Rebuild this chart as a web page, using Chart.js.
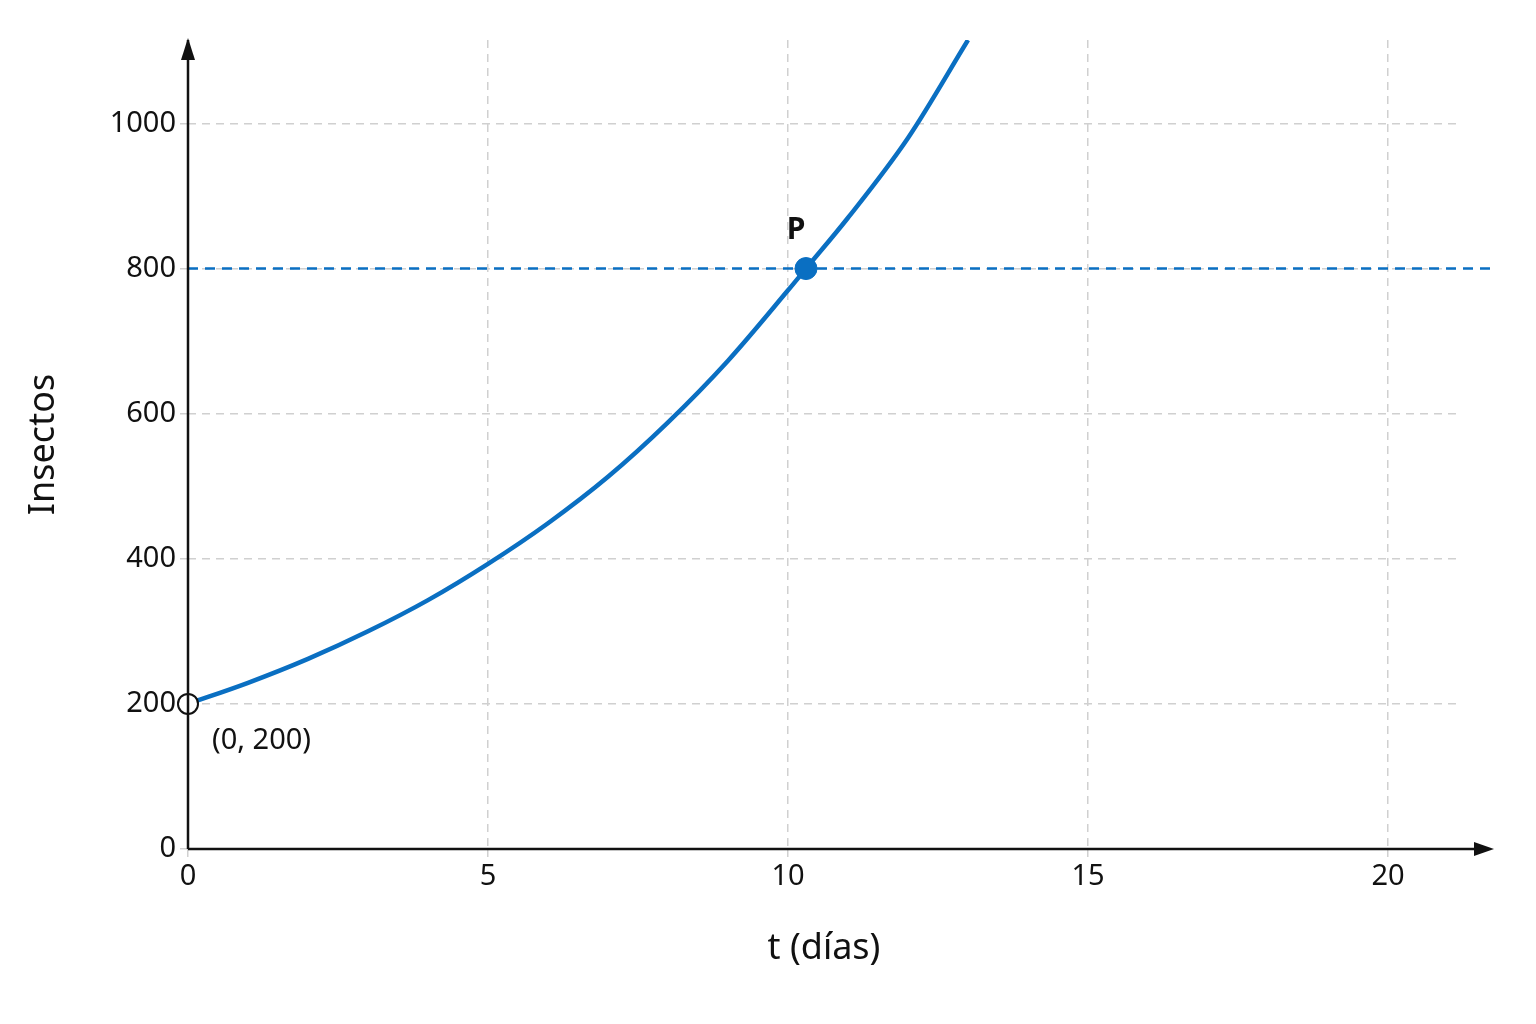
<!DOCTYPE html>
<html><head><meta charset="utf-8">
<script src="https://cdn.jsdelivr.net/npm/chart.js@4"></script>
<style>html,body{margin:0;background:#fff}#w{width:1536px;height:1024px}</style>
</head><body><div id="w"><canvas id="c"></canvas></div>
<script>
const curveT = [0,1,2,3,4,5,6,7,8,9,10,10.3,11,12,13];
const curveY = [200,229,262,300,343,393,449,513,588,673,770,800,870,980,1115];
const xTicks = [0,5,10,15,20];
const yTicks = [0,200,400,600,800,1000];
const threshold = 800;
const pointP = {x:10.3, y:800};
const start = {x:0, y:200};
const blue = '#0a6fc2';

const arrows = {
  id:'arrows',
  afterDraw(ch){
    const c=ch.ctx, x=ch.scales.x, y=ch.scales.y;
    const x0=x.getPixelForValue(0), y0=y.getPixelForValue(0);
    c.save(); c.strokeStyle='#111'; c.fillStyle='#111'; c.lineWidth=2.5;
    c.beginPath(); c.moveTo(x0,y0); c.lineTo(x.right+18,y0); c.stroke();
    c.beginPath(); c.moveTo(x0,y0); c.lineTo(x0,y.top); c.stroke();
    c.beginPath(); c.moveTo(x.right+34,y0); c.lineTo(x.right+14,y0-7); c.lineTo(x.right+14,y0+7); c.fill();
    c.beginPath(); c.moveTo(x0,y.top-2); c.lineTo(x0-7,y.top+20); c.lineTo(x0+7,y.top+20); c.fill();
    c.font='bold 30px "Noto Sans"'; c.textAlign='center';
    c.fillText('P', x.getPixelForValue(pointP.x)-10, y.getPixelForValue(pointP.y)-30);
    c.font='29px "Noto Sans"'; c.textAlign='left';
    c.fillText('(0, 200)', x0+24, y.getPixelForValue(start.y)+45);
    c.restore();
  }
};

new Chart(document.getElementById('c'),{
  type:'scatter',
  data:{datasets:[
    {data:[{x:pointP.x,y:pointP.y}],pointRadius:11,backgroundColor:blue,borderColor:blue,clip:false},
    {data:[{x:start.x,y:start.y}],pointRadius:10,backgroundColor:'#fff',borderColor:'#111',borderWidth:2,clip:false},
    {data:curveT.map((t,i)=>({x:t,y:curveY[i]})),showLine:true,cubicInterpolationMode:'monotone',borderColor:blue,borderWidth:4.5,pointRadius:0},
    {data:[{x:0,y:threshold},{x:21.7,y:threshold}],showLine:true,borderColor:blue,borderWidth:2.5,borderDash:[10,7],pointRadius:0,clip:false}
  ]},
  options:{
    responsive:true,maintainAspectRatio:false,animation:false,
    layout:{padding:{left:18,top:40,right:76,bottom:50}},
    plugins:{legend:{display:false},tooltip:{enabled:false}},
    scales:{
      x:{type:'linear',min:0,max:21.2,
        afterBuildTicks:s=>{s.ticks=xTicks.map(v=>({value:v}))},
        afterFit:s=>{s.height=125},
        border:{display:false,dash:[8,6]},
        grid:{color:'#d0d0d0',lineWidth:1.5,tickLength:8},
        ticks:{color:'#111',font:{size:29,family:'Noto Sans'},padding:2},
        title:{display:true,text:'t (días)',color:'#111',font:{size:36,family:'Noto Sans'},padding:{top:14}}},
      y:{min:0,max:1115,
        afterBuildTicks:s=>{s.ticks=yTicks.map(v=>({value:v}))},
        afterFit:s=>{s.width=170},
        border:{display:false,dash:[8,6]},
        grid:{color:'#d0d0d0',lineWidth:1.5,tickLength:8},
        ticks:{color:'#111',font:{size:29,family:'Noto Sans'},padding:4,callback:v=>String(v)},
        title:{display:true,text:'Insectos',color:'#111',font:{size:36,family:'Noto Sans'},padding:{bottom:30}}}
    }
  },
  plugins:[arrows]
});
</script></body></html>
